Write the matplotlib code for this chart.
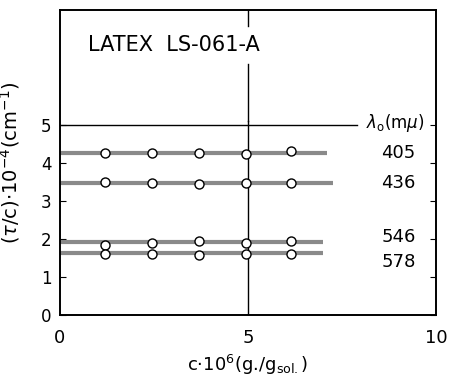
import matplotlib
matplotlib.use("Agg")
import matplotlib.pyplot as plt

# Data
conc = [1.2, 2.45, 3.7, 4.95, 6.15]
wavelengths = ["405", "436", "546", "578"]
vals_405 = [4.28, 4.28, 4.28, 4.24, 4.32]
vals_436 = [3.50, 3.47, 3.44, 3.47, 3.47]
vals_546 = [1.84, 1.89, 1.95, 1.91, 1.95]
vals_578 = [1.62, 1.60, 1.59, 1.61, 1.62]
fit_levels = [4.26, 3.47, 1.92, 1.63]
fit_ends = [7.1, 7.25, 7.0, 7.0]
series = [vals_405, vals_436, vals_546, vals_578]
label_y = [4.26, 3.47, 2.05, 1.4]

plt.rcParams['font.family'] = ['DejaVu Sans']
fig = plt.figure(figsize=(4.5, 3.88), dpi=100)
ax = fig.add_axes([0.1333, 0.188, 0.9689 - 0.1333, 0.974 - 0.188])
ax.set_xlim(0, 10)
ax.set_ylim(0, 8.03)

for lev, end, vals in zip(fit_levels, fit_ends, series):
    ax.plot([0, end], [lev, lev], color="#8a8a8a", lw=3.0, solid_capstyle="butt", zorder=2)
    ax.plot(conc, vals, "o", ms=6.5, mfc="white", mec="black", mew=1.0, zorder=3)

# reference lines
ax.plot([0, 7.9], [5, 5], color="black", lw=1.0, zorder=1, clip_on=False)
ax.plot([5, 5], [0, 5.1], color="black", lw=1.0, zorder=1)
ax.plot([5, 5], [5.1, 6.6], color="black", lw=1.0, zorder=1)
ax.plot([5, 5], [7.6, 8.03], color="black", lw=1.0, zorder=1)

ax.text(0.75, 7.1, "LATEX  LS-061-A", fontsize=15, va="center", ha="left")
ax.text(8.15, 5.05, r"$\lambda_{\rm o}$(m$\mu$)", fontsize=12, va="center", ha="left")
for w, yv in zip(wavelengths, label_y):
    ax.text(9.0, yv, w, fontsize=13, va="center", ha="center")

for s in ax.spines.values():
    s.set_linewidth(1.4)

ax.set_xticks([0, 5, 10])
ax.set_xticklabels(["0", "5", "10"], fontsize=13)
ax.tick_params(axis="x", length=0, pad=10)
ax.set_yticks([0, 1, 2, 3, 4, 5])
ax.set_yticklabels(["0", "1", "2", "3", "4", "5"], fontsize=12)
ax.tick_params(axis="y", direction="in", length=4, right=True, pad=6)

ax.set_xlabel(r"c$\cdot$10$^6$(g./g$_{\rm sol.}$)", fontsize=13, labelpad=4)
ax.set_ylabel(r"($\tau$/c)$\cdot$10$^{-4}$(cm$^{-1}$)", fontsize=14)
ax.yaxis.set_label_coords(-0.1, 0.5)

fig.savefig("out.png", dpi=100)
